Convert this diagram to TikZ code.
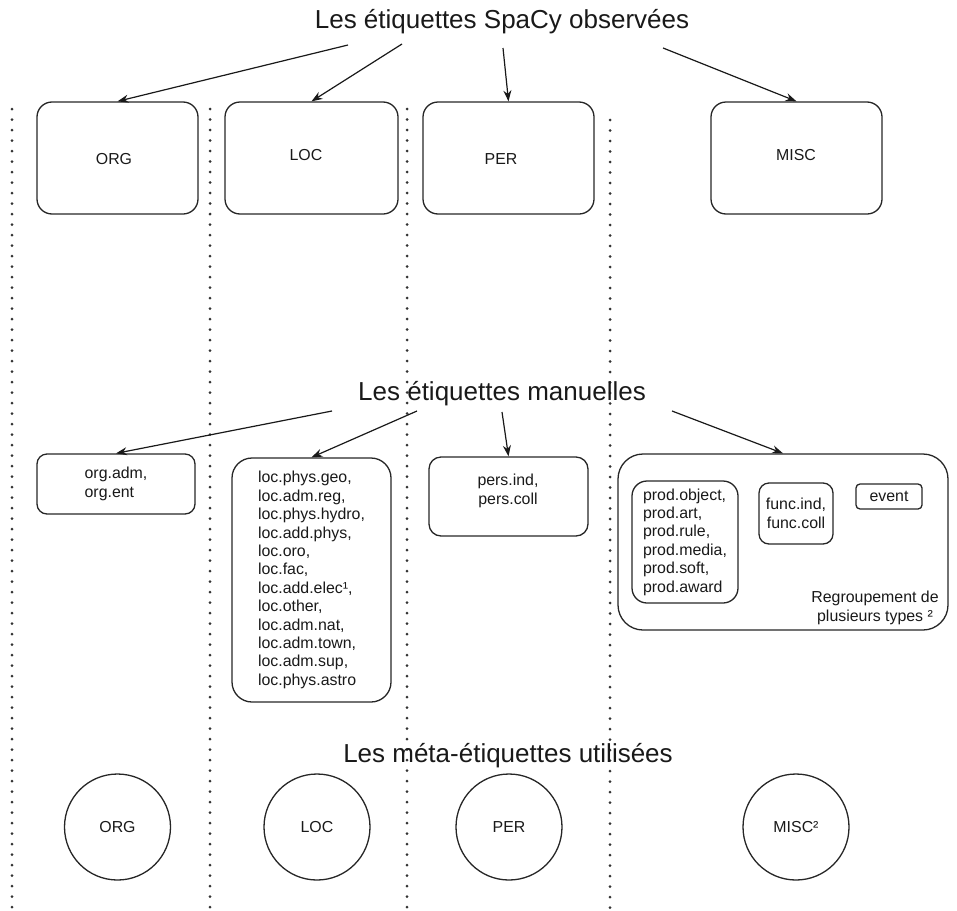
\documentclass[tikz,border=0pt]{standalone}
\usepackage{fontspec}
\setmainfont{Liberation Sans}
\usetikzlibrary{arrows.meta}
\newcommand\smfont{\fontsize{15.9}{18.4}\selectfont}
\newcommand\ttlfont{\fontsize{26}{30}\selectfont}
\begin{document}
\begin{tikzpicture}[x=1pt,y=-1pt,
  rbox/.style={draw=black!85, line width=1.3pt, inner sep=0pt, font=\smfont, text=black!90},
  circ/.style={draw=black!85, line width=1.3pt, circle, minimum size=106pt, inner sep=0pt, font=\smfont, text=black!90},
  ttl/.style={font=\ttlfont, text=black!90, inner sep=0pt},
  lbl/.style={font=\smfont, text=black!90, inner sep=0pt},
  arr/.style={draw=black!90, line width=1.2pt, -{Stealth[length=11pt,width=8pt]}},
  sep/.style={draw=black!80, line width=3pt, line cap=round, dash pattern=on 0pt off 10.5pt}
]
\useasboundingbox (0,0) rectangle (957,910);

% separators
\coordinate (d1a) at (12,109);  \coordinate (d1b) at (12,910);
\coordinate (d2a) at (210,109); \coordinate (d2b) at (210,910);
\coordinate (d3a) at (407,109); \coordinate (d3b) at (407,910);
\coordinate (d4a) at (610,120); \coordinate (d4b) at (610,910);
\draw[sep] (d1a) -- (d1b);
\draw[sep] (d2a) -- (d2b);
\draw[sep] (d3a) -- (d3b);
\draw[sep] (d4a) -- (d4b);

% titles
\node[ttl] (t1) at (502,22) {Les étiquettes SpaCy observées};
\node[ttl] (t2) at (502,394) {Les étiquettes manuelles};
\node[ttl] (t3) at (508,756) {Les méta-étiquettes utilisées};

% top boxes
\node[rbox, rounded corners=15pt, minimum width=161pt, minimum height=112pt] (sorg) at (117.5,158) {};
\node[rbox, rounded corners=15pt, minimum width=173pt, minimum height=112pt] (sloc) at (311.5,158) {};
\node[rbox, rounded corners=15pt, minimum width=171pt, minimum height=112pt] (sper) at (508.5,158) {};
\node[rbox, rounded corners=15pt, minimum width=171pt, minimum height=112pt] (smisc) at (796.5,158) {};
\node[lbl] (sorgt) at (114,159) {ORG};
\node[lbl] (sloct) at (306,155) {LOC};
\node[lbl] (spert) at (501,159) {PER};
\node[lbl] (smisct) at (796,155) {MISC};

\coordinate (a1) at (348,45);
\coordinate (a2) at (402,44);
\coordinate (a3) at (503,48);
\coordinate (a4) at (663,48);
\draw[arr] (a1) -- (sorg.north);
\draw[arr] (a2) -- (sloc.north);
\draw[arr] (a3) -- (sper.north);
\draw[arr] (a4) -- (smisc.north);

% manual boxes
\node[rbox, rounded corners=10pt, minimum width=158pt, minimum height=60pt, align=left] (morg) at (116,484) {org.adm,\\org.ent};
\node[rbox, rounded corners=20pt, minimum width=159pt, minimum height=244pt, align=left] (mloc) at (311.5,580)
  {loc.phys.geo,\\loc.adm.reg,\\loc.phys.hydro,\\loc.add.phys,\\loc.oro,\\loc.fac,\\loc.add.elec¹,\\loc.other,\\loc.adm.nat,\\loc.adm.town,\\loc.adm.sup,\\loc.phys.astro};
\node[rbox, rounded corners=12pt, minimum width=159pt, minimum height=79pt] (mper) at (508.5,496.5) {};
\node[lbl, align=center] (mpertxt) at (508,491) {pers.ind,\\pers.coll};
\node[rbox, rounded corners=25pt, minimum width=330pt, minimum height=176pt] (mmisc) at (783,542) {};
\node[rbox, rounded corners=15pt, minimum width=106pt, minimum height=122pt, align=left] (prod) at (685,542)
  {prod.object,\\prod.art,\\prod.rule,\\prod.media,\\prod.soft,\\prod.award};
\node[rbox, rounded corners=10pt, minimum width=74pt, minimum height=61pt, align=center] (func) at (796,513.5) {func.ind,\\func.coll};
\node[rbox, rounded corners=4pt, minimum width=66pt, minimum height=25pt] (event) at (889,496.5) {event};
\node[lbl, align=center] (regr) at (875,608) {Regroupement de\\plusieurs types ²};

\coordinate (b1) at (332,411);
\coordinate (b2) at (417,411);
\coordinate (b3) at (502,412);
\coordinate (b4) at (672,411);
\draw[arr] (b1) -- (morg.north);
\draw[arr] (b2) -- (mloc.north);
\draw[arr] (b3) -- (mper.north);
\draw[arr] (b4) -- (mmisc.north);

% meta labels
\node[circ] (corg) at (117.5,827) {ORG};
\node[circ] (cloc) at (317,827) {LOC};
\node[circ] (cper) at (509,827) {PER};
\node[circ] (cmisc) at (796,827) {MISC²};
\end{tikzpicture}
\end{document}
